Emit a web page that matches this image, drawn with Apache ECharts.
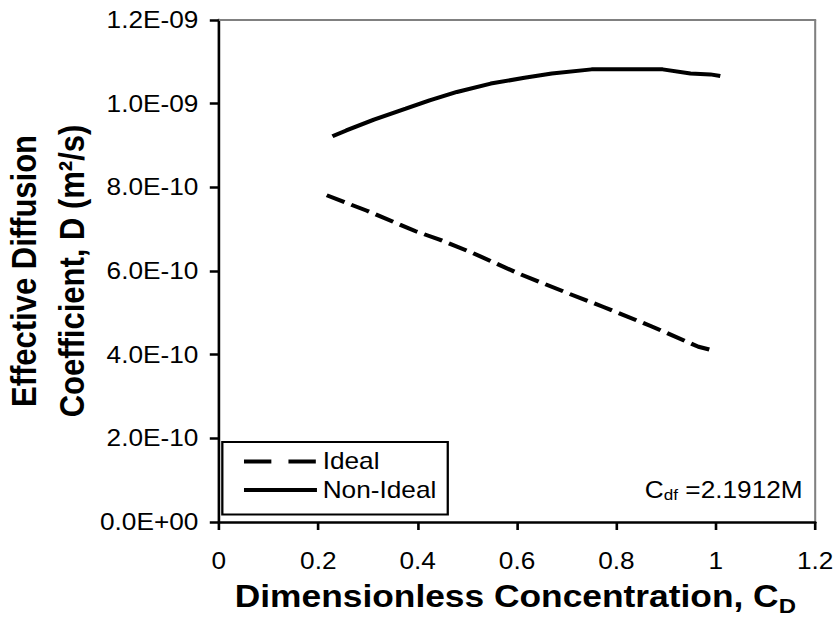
<!DOCTYPE html>
<html>
<head>
<meta charset="utf-8">
<script src="https://cdn.jsdelivr.net/npm/echarts@6.0.0/dist/echarts.min.js"></script>
<style>
html,body{margin:0;padding:0;background:#fff;overflow:hidden}
#wrap{width:838px;height:620px;overflow:hidden;background:#fff}
#chart{width:735px;height:620px;transform:scaleX(1.140136);transform-origin:0 0}
</style>
</head>
<body>
<div id="wrap"><div id="chart"></div></div>
<script>
// ---- data ----
const xTickLabels = ['0', '0.2', '0.4', '0.6', '0.8', '1', '1.2'];
const yTickLabels = ['0.0E+00', '2.0E-10', '4.0E-10', '6.0E-10', '8.0E-10', '1.0E-09', '1.2E-09'];
const seriesNames = ['Ideal', 'Non-Ideal'];

// Ideal (dashed)
const idealC = [0.217, 0.298, 0.396, 0.444, 0.511, 0.605, 0.702, 0.774, 0.870, 0.965, 1.001];
const idealD = [7.81e-10, 7.44e-10, 6.95e-10, 6.75e-10, 6.43e-10, 5.93e-10, 5.47e-10, 5.14e-10, 4.68e-10, 4.19e-10, 4.08e-10];

// Non-Ideal (solid)
const nonIdealC = [0.2285, 0.2564, 0.312, 0.376, 0.424, 0.479, 0.547, 0.615, 0.670, 0.750, 0.820, 0.893, 0.949, 0.989, 1.009];
const nonIdealD = [9.22e-10, 9.36e-10, 9.62e-10, 9.88e-10, 1.008e-9, 1.028e-9, 1.048e-9, 1.062e-9, 1.072e-9, 1.082e-9, 1.082e-9, 1.082e-9, 1.072e-9, 1.070e-9, 1.066e-9];

const xTitleMain = 'Dimensionless Concentration, C';
const xTitleSub = 'D';
const yTitleLine1 = 'Effective Diffusion';
const yTitleLine2 = 'Coefficient, D (m²/s)';
const noteMain = 'C';
const noteSub = 'df';
const noteRest = ' =2.1912M';

// ---- chart ----
const FF = '"Liberation Sans", Arial, Helvetica, sans-serif';
const chart = echarts.init(document.getElementById('chart'), null, {renderer: 'svg'});

const pair = (xs, ys) => xs.map((x, i) => [x, ys[i]]);

chart.setOption({
  animation: false,
  backgroundColor: '#fff',
  grid: {left: 192, right: 20, top: 20, bottom: 98, containLabel: false, outerBoundsMode: 'none'},
  xAxis: [{
    type: 'value', min: 0, max: 1.2, interval: 0.2, position: 'bottom',
    axisLine: {show: true, onZero: false, lineStyle: {color: '#000', width: 2.5}},
    axisTick: {show: true, inside: false, length: 8, lineStyle: {color: '#000', width: 2.3}},
    axisLabel: {show: true, margin: 28, fontSize: 23, fontFamily: FF, color: '#000',
      formatter: v => xTickLabels[Math.round(v / 0.2)]},
    splitLine: {show: false}
  }, {
    type: 'value', min: 0, max: 1.2, interval: 0.2, position: 'top',
    axisLine: {show: true, onZero: false, lineStyle: {color: '#808080', width: 2}},
    axisTick: {show: false}, axisLabel: {show: false}, splitLine: {show: false}
  }],
  yAxis: [{
    type: 'value', min: 0, max: 1.2e-9, interval: 2e-10, position: 'left',
    axisLine: {show: true, onZero: false, lineStyle: {color: '#000', width: 2.3}},
    axisTick: {show: true, inside: false, length: 8, lineStyle: {color: '#000', width: 2.5}},
    axisLabel: {show: true, margin: 18, fontSize: 23, fontFamily: FF, color: '#000',
      formatter: v => yTickLabels[Math.round(v / 2e-10)]},
    splitLine: {show: false}
  }, {
    type: 'value', min: 0, max: 1.2e-9, interval: 2e-10, position: 'right',
    axisLine: {show: true, onZero: false, lineStyle: {color: '#808080', width: 1.8}},
    axisTick: {show: false}, axisLabel: {show: false}, splitLine: {show: false}
  }],
  legend: {
    orient: 'vertical', left: 195, top: 442,
    padding: [8, 10, 13, 17],
    itemWidth: 64, itemHeight: 14, itemGap: 5.5,
    borderColor: '#000', borderWidth: 2, borderRadius: 0, backgroundColor: '#fff',
    selectedMode: false,
    itemStyle: {opacity: 0},
    textStyle: {fontSize: 23, fontFamily: FF, color: '#000', lineHeight: 23},
    data: [
      {name: seriesNames[0], lineStyle: {type: [24, 15], width: 4, color: '#000'}},
      {name: seriesNames[1], lineStyle: {type: 'solid', width: 4, color: '#000'}}
    ]
  },
  series: [{
    name: seriesNames[0], type: 'line', xAxisIndex: 0, yAxisIndex: 0,
    data: pair(idealC, idealD), symbol: 'none', showSymbol: false, silent: true,
    itemStyle: {color: '#000'},
    lineStyle: {color: '#000', width: 4, type: [17, 6.5], cap: 'butt'}
  }, {
    name: seriesNames[1], type: 'line', xAxisIndex: 0, yAxisIndex: 0,
    data: pair(nonIdealC, nonIdealD), symbol: 'none', showSymbol: false, silent: true,
    itemStyle: {color: '#000'},
    lineStyle: {color: '#000', width: 4, type: 'solid'}
  }],
  graphic: [{
    type: 'text', x: 21, y: 271, rotation: Math.PI / 2, silent: true,
    style: {text: yTitleLine1, fontSize: 31, fontWeight: 'bold', fontFamily: FF, fill: '#000',
      align: 'center', verticalAlign: 'middle', textAlign: 'center', textVerticalAlign: 'middle'}
  }, {
    type: 'text', x: 63, y: 271, rotation: Math.PI / 2, silent: true,
    style: {text: yTitleLine2, fontSize: 31, fontWeight: 'bold', fontFamily: FF, fill: '#000',
      align: 'center', verticalAlign: 'middle', textAlign: 'center', textVerticalAlign: 'middle'}
  }, {
    type: 'text', x: 452, y: 596, silent: true,
    style: {
      text: '{a|' + xTitleMain + '}{s|' + xTitleSub + '}',
      align: 'center', verticalAlign: 'middle', textAlign: 'center', textVerticalAlign: 'middle',
      fill: '#000',
      rich: {
        a: {fontSize: 31, fontWeight: 'bold', fontFamily: FF, fill: '#000', lineHeight: 34},
        s: {fontSize: 21, fontWeight: 'bold', fontFamily: FF, fill: '#000', lineHeight: 34, padding: [21, 0, 0, 0]}
      }
    }
  }, {
    type: 'text', x: 704, y: 490, silent: true,
    style: {
      text: '{a|' + noteMain + '}{s|' + noteSub + '}{a|' + noteRest + '}',
      align: 'right', verticalAlign: 'middle', textAlign: 'right', textVerticalAlign: 'middle',
      fill: '#000',
      rich: {
        a: {fontSize: 23, fontFamily: FF, fill: '#000', lineHeight: 26},
        s: {fontSize: 15, fontFamily: FF, fill: '#000', lineHeight: 26, padding: [8, 0, 0, 0]}
      }
    }
  }]
});
</script>
</body>
</html>
